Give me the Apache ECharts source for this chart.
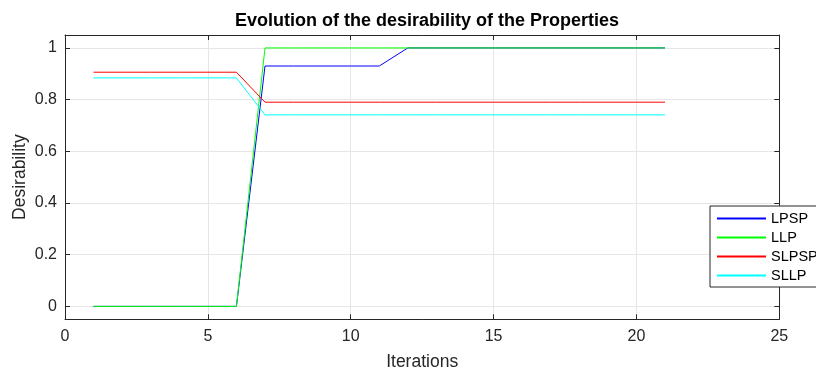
<!DOCTYPE html>
<html><head><meta charset="utf-8">
<script src="https://cdn.jsdelivr.net/npm/echarts@6/dist/echarts.min.js"></script>
<style>html,body{margin:0;padding:0;background:#fff}#c{width:816px;height:370px}</style>
</head><body><div id="c"></div>
<script>
const iterations = [1,2,3,4,5,6,7,8,9,10,11,12,13,14,15,16,17,18,19,20,21];
const LPSP  = [0,0,0,0,0,0,0.93,0.93,0.93,0.93,0.93,1,1,1,1,1,1,1,1,1,1];
const LLP   = [0,0,0,0,0,0,1,1,1,1,1,1,1,1,1,1,1,1,1,1,1];
const SLPSP = [0.906,0.906,0.906,0.906,0.906,0.906,0.79,0.79,0.79,0.79,0.79,0.79,0.79,0.79,0.79,0.79,0.79,0.79,0.79,0.79,0.79];
const SLLP  = [0.884,0.884,0.884,0.884,0.884,0.884,0.741,0.741,0.741,0.741,0.741,0.741,0.741,0.741,0.741,0.741,0.741,0.741,0.741,0.741,0.741];
const seriesNames = ['LPSP','LLP','SLPSP','SLLP'];
const seriesData = [LPSP, LLP, SLPSP, SLLP];
const colors = ['#0000ff','#00ff00','#ff0000','#00ffff'];
const xTicks = [0,5,10,15,20,25];
const yTicks = [0,0.2,0.4,0.6,0.8,1];

const font = 'Liberation Sans, Arial, Helvetica, sans-serif';
const axisCol = '#262626';
const chart = echarts.init(document.getElementById('c'), null, {renderer:'canvas'});
const baseX = {
  type:'value', min:0, max:25, interval:5,
  axisLine:{show:true, onZero:false, lineStyle:{color:axisCol, width:1}},
  axisTick:{show:true, inside:true, length:5, lineStyle:{color:axisCol}},
  splitLine:{show:false}
};
const baseY = {
  type:'value', min:-0.05, max:1.05,
  axisLine:{show:true, onZero:false, lineStyle:{color:axisCol, width:1}},
  axisTick:{show:true, inside:true, length:5, lineStyle:{color:axisCol}, customValues: yTicks},
  axisLabel:{customValues: yTicks},
  splitLine:{show:false}
};
chart.setOption({
  animation:false,
  backgroundColor:'#fff',
  color: colors,
  title:{text:'Evolution of the desirability of the Properties', left:422, textAlign:'center', top:7,
    textStyle:{fontFamily:font, fontSize:18, fontWeight:'bold', color:'#000'}},
  grid:{left:65, right:36.7, top:35, bottom:50.7, containLabel:false, outerBoundsMode:'none'},
  legend:{
    orient:'vertical', left:710, top:206,
    backgroundColor:'#fff', borderColor:'#262626', borderWidth:1, borderRadius:0,
    padding:[4,60,3,7], itemGap:2, itemWidth:49, itemHeight:2,
    icon:'rect',
    textStyle:{fontFamily:font, fontSize:14.5, color:'#000', lineHeight:17},
    data: seriesNames
  },
  xAxis:[
    Object.assign({}, baseX, {position:'bottom',
      name:'Iterations', nameLocation:'middle', nameGap:34, nameMoveOverlap:false,
      nameTextStyle:{fontFamily:font, fontSize:17.5, color:axisCol},
      axisLabel:{fontFamily:font, fontSize:16, color:axisCol, margin:9},
      splitLine:{show:true, lineStyle:{color:'#e6e6e6', width:1}}}),
    Object.assign({}, baseX, {position:'top', axisLabel:{show:false}})
  ],
  yAxis:[
    Object.assign({}, baseY, {position:'left',
      name:'Desirability', nameLocation:'middle', nameGap:36, nameMoveOverlap:false,
      nameTextStyle:{fontFamily:font, fontSize:17.5, color:axisCol},
      axisLabel:{customValues:yTicks, fontFamily:font, fontSize:16, color:axisCol, margin:8},
      splitLine:{show:false}}),
    Object.assign({}, baseY, {position:'right', axisLabel:{show:false}})
  ],
  series: [
    {
      type:'line', name:'__ygrid', xAxisIndex:0, yAxisIndex:0, silent:true, symbol:'none',
      data:[], z:0, zlevel:0,
      markLine:{silent:true, symbol:'none', label:{show:false}, z:0,
        lineStyle:{color:'#e6e6e6', type:'solid', width:1},
        data: yTicks.map(v => ({yAxis:v}))}
    }
  ].concat(seriesNames.map((n,i) => ({
    type:'line', name:n, xAxisIndex:0, yAxisIndex:0,
    data: iterations.map((x,j) => [x, seriesData[i][j]]),
    symbol:'none', showSymbol:false,
    color: colors[i],
    lineStyle:{color:colors[i], width:1},
    itemStyle:{color:colors[i]},
    z: 5
  })))
});
</script></body></html>
